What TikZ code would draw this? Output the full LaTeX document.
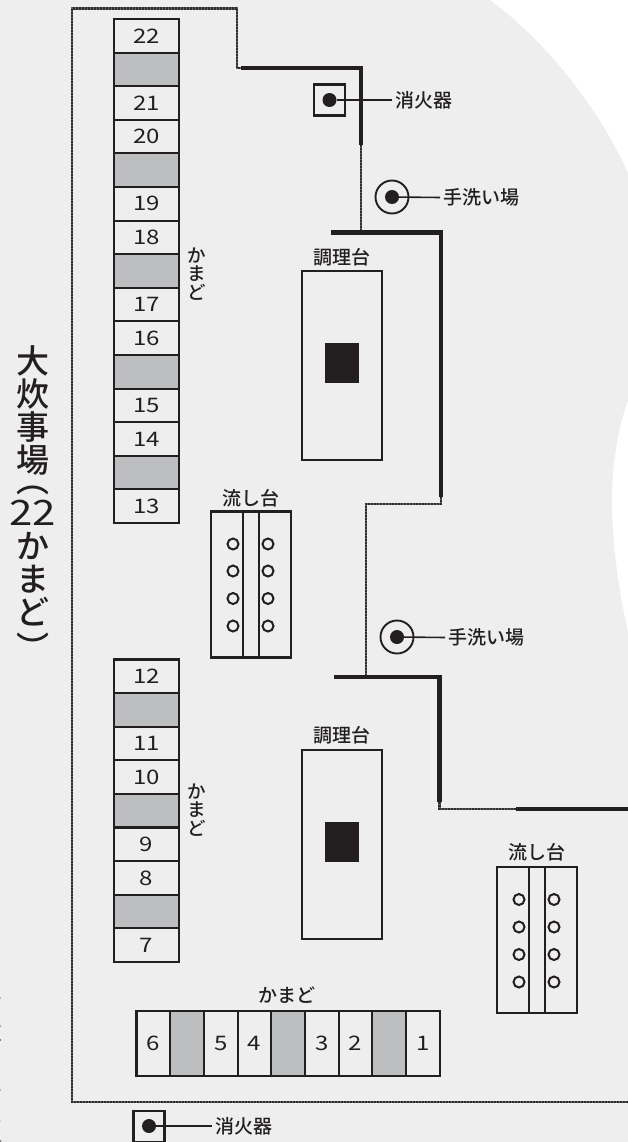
\documentclass[tikz,border=0pt]{standalone}
\usepackage{fontspec}
\setmainfont{Noto Sans CJK JP Medium}
\newfontfamily\digitfont[FakeStretch=1.2]{Noto Sans CJK JP}
\definecolor{ink}{HTML}{231F20}
\definecolor{floorgrey}{HTML}{EEEEEE}
\definecolor{cellgrey}{HTML}{BCBEC0}
\definecolor{thinwall}{HTML}{2E2C2D}
\definecolor{thinbase}{HTML}{666465}
\newcommand{\fs}[1]{\fontsize{#1}{#1}\selectfont}
\tikzset{
  cellv/.style={draw=ink,line width=2.1pt,minimum width=65pt,minimum height=33.6pt,inner sep=0pt,outer sep=0pt,text=ink,font=\digitfont\fs{20}},
  cellh/.style={draw=ink,line width=2.1pt,minimum width=33.7pt,minimum height=65pt,inner sep=0pt,outer sep=0pt,text=ink,font=\digitfont\fs{20}},
  blank/.style={fill=cellgrey},
  lbl/.style={text=ink,font=\fs{19},inner sep=0pt},
  lead/.style={text=ink,font=\fs{19},inner sep=0pt,outer sep=3pt,anchor=west},
  stack/.style={text=ink,font=\fs{18.5},inner sep=0pt,align=center},
  thick wall/.style={draw=ink,line width=4.6pt,line join=miter},
  thin wall/.style={preaction={draw=thinbase,solid,line width=2.3pt},draw=thinwall,line width=2.3pt,dash pattern=on 2pt off 1pt},
  furn/.style={draw=ink,line width=2.1pt,inner sep=0pt,outer sep=0pt},
  blackblock/.style={fill=ink,inner sep=0pt,outer sep=0pt,minimum width=34pt,minimum height=40pt},
  dotnode/.style={circle,fill=ink,minimum size=14pt,inner sep=0pt,outer sep=0pt},
  leader/.style={draw=ink,line width=1.6pt},
  tap/.style={circle,draw=ink,line width=2pt,minimum size=11pt,inner sep=0pt},
  ringnode/.style={circle,draw=ink,line width=1.9pt,minimum size=33pt,inner sep=0pt},
  extbox/.style={draw=ink,line width=2.1pt,minimum size=31pt,inner sep=0pt,outer sep=0pt},
}
\begin{document}
\begin{tikzpicture}[x=1pt,y=-1pt]
\useasboundingbox (0,0) rectangle (628,1142);
% floor
\fill[floorgrey] (0,0) -- (490,0) .. controls (538,35) and (595,100) .. (628,173)
  -- (628,400) .. controls (616,435) and (612,470) .. (612,500)
  .. controls (612,550) and (620,595) .. (628,632) -- (628,1142) -- (0,1142) -- cycle;
% left-edge specks
\fill[ink!60] (0,998) circle (0.8) (0,1026) circle (1) (0,1040) circle (1.4) (0,1090) circle (0.8) (0,1121) circle (0.7) (0,1141) circle (1.5);
% title
\node[text=ink,inner sep=0pt,align=center,font=\fs{33}] (title) at (32.5,503) {大\\[0.5pt]炊\\事\\場\\[-13pt]︵\\[0pt]{\digitfont\fs{35}22}\\[0pt]か\\ま\\ど\\[3pt]︶};
% outer wall
\coordinate (a0) at (72,1102); \coordinate (a1) at (72,8.5); \coordinate (a2) at (237,8.5); \coordinate (a3) at (237,68); \coordinate (a4) at (241,68);
\coordinate (a5) at (361,68); \coordinate (a6) at (361,145); \coordinate (a7) at (361,232);
\coordinate (b0) at (331,232.5); \coordinate (b1) at (441,232.5); \coordinate (b2) at (441,497);
\coordinate (c1) at (441,504); \coordinate (c2) at (366,504); \coordinate (c3) at (366,677);
\coordinate (d0) at (334,677); \coordinate (d1) at (439.5,677); \coordinate (d2) at (439.5,802);
\coordinate (e1) at (439.5,809); \coordinate (e2) at (516,809); \coordinate (e3) at (628,809); \coordinate (f1) at (628,1102);
\draw[thin wall] (f1) -- (a0) -- (a1) -- (a2) -- (a3) -- (a4);
\draw[thick wall] (a4) -- (a5) -- (a6);
\draw[thin wall] (a6) -- (a7);
\draw[thick wall] (b0) -- (b1) -- (b2);
\draw[thin wall] (b2) -- (c1) -- (c2) -- (c3);
\draw[thick wall] (d0) -- (d1) -- (d2);
\draw[thin wall] (d2) -- (e1) -- (e2);
\draw[thick wall] (e2) -- (e3);
% upper column of stoves
\foreach \name/\lab/\st [count=\i from 0] in {c22/22/,u1//blank,c21/21/,c20/20/,u2//blank,c19/19/,c18/18/,u3//blank,c17/17/,c16/16/,u4//blank,c15/15/,c14/14/,u5//blank,c13/13/}{
  \node[cellv,\st] (\name) at (146.5,{35.8+33.6*\i}) {\lab};
}
% lower column
\foreach \name/\lab/\st [count=\i from 0] in {c12/12/,l1//blank,c11/11/,c10/10/,l2//blank,c9/9/,c8/8/,l3//blank,c7/7/}{
  \node[cellv,\st] (\name) at (146.5,{676.3+33.6*\i}) {\lab};
}
% bottom row
\foreach \name/\lab/\st [count=\i from 0] in {c6/6/,r1//blank,c5/5/,c4/4/,r2//blank,c3n/3/,c2n/2/,r3//blank,c1n/1/}{
  \node[cellh,\st] (\name) at ({153.3+33.7*\i},1043.5) {\lab};
}
\node[stack] (kamado1) at (197,274) {か\\ま\\ど};
\node[stack] (kamado2) at (197,810) {か\\ま\\ど};
\node[lbl] (kamado3) at (287,995) {かまど};
% cooking tables
\node[lbl] (chori1) at (342,257) {調理台};
\node[furn,minimum width=80pt,minimum height=189pt] (table1) at (342,365.5) {};
\node[blackblock] (block1) at (342,362.5) {};
\node[lbl] (chori2) at (342,735) {調理台};
\node[furn,minimum width=80pt,minimum height=189pt] (table2) at (342,844.5) {};
\node[blackblock] (block2) at (342,842) {};
% sinks
\node[lbl] (nagashi1) at (251,498) {流し台};
\node[furn,minimum width=80pt,minimum height=146pt] (sink1) at (251,584.5) {};
\draw[furn] (sink1.north west) ++(32,0) coordinate (s1a) -- (s1a |- sink1.south);
\draw[furn] (sink1.north west) ++(48,0) coordinate (s1b) -- (s1b |- sink1.south);
\foreach \k/\yy in {1/544,2/571,3/598.5,4/626}{
  \node[tap] (s1l\k) at (233,\yy) {};
  \node[tap] (s1r\k) at (268,\yy) {};
}
\node[lbl] (nagashi2) at (537,852.5) {流し台};
\node[furn,minimum width=80pt,minimum height=146pt] (sink2) at (537,940) {};
\draw[furn] (sink2.north west) ++(32,0) coordinate (s2a) -- (s2a |- sink2.south);
\draw[furn] (sink2.north west) ++(48,0) coordinate (s2b) -- (s2b |- sink2.south);
\foreach \k/\yy in {1/899.5,2/927,3/954.5,4/982}{
  \node[tap] (s2l\k) at (519,\yy) {};
  \node[tap] (s2r\k) at (554,\yy) {};
}
% extinguishers
\node[extbox] (ext1) at (329.5,100) {};
\node[dotnode] (ext1d) at (329.5,100) {};
\node[lead] (ext1t) at (392,100) {消火器};
\draw[leader] (ext1d) -- (ext1t.west);
\node[extbox] (ext2) at (149,1126.5) {};
\node[dotnode] (ext2d) at (149,1126) {};
\node[lead] (ext2t) at (212,1126) {消火器};
\draw[leader] (ext2d) -- (ext2t.west);
% wash places
\node[ringnode] (wash1) at (392,197) {};
\node[dotnode] (wash1d) at (392,197) {};
\node[lead] (wash1t) at (440,197.5) {手洗い場};
\draw[leader] (wash1d) -- (wash1t.west);
\node[ringnode] (wash2) at (397,637) {};
\node[dotnode] (wash2d) at (397,637) {};
\node[lead] (wash2t) at (445,637.5) {手洗い場};
\draw[leader] (wash2d) -- (wash2t.west);
\end{tikzpicture}
\end{document}
